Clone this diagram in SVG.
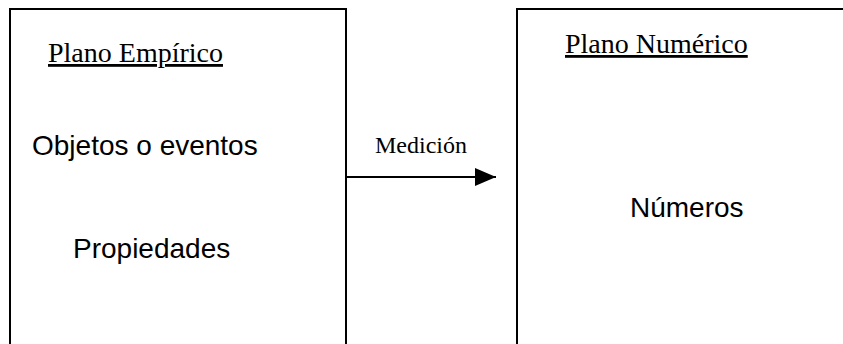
<svg xmlns="http://www.w3.org/2000/svg" width="843" height="344" viewBox="0 0 843 344">
<style>
.box{fill:#fff;stroke:#000;stroke-width:2}
.t{font-family:"Liberation Serif","Times New Roman",serif;font-size:28px;fill:#000}
.a{font-family:"Liberation Sans",Arial,sans-serif;font-size:28px;fill:#000}
.u{text-decoration:underline}
</style>
<defs>
<marker id="ah" markerWidth="22" markerHeight="18" refX="21" refY="9" orient="auto" markerUnits="userSpaceOnUse">
<path d="M0,0 L21,9 L0,18 Z" fill="#000"/>
</marker>
</defs>
<g id="plano-empirico">
<rect class="box" x="10" y="9" width="336" height="345"/>
<text class="t u" x="48" y="62">Plano Empírico</text>
<text class="a" x="32" y="155">Objetos o eventos</text>
<text class="a" x="73" y="258">Propiedades</text>
</g>
<g id="plano-numerico">
<rect class="box" x="517" y="9" width="340" height="345"/>
<text class="t u" x="565" y="53">Plano Numérico</text>
<text class="a" x="630" y="217">Números</text>
</g>
<g id="connectors">
<line x1="346" y1="177" x2="496" y2="177" stroke="#000" stroke-width="2" marker-end="url(#ah)"/>
<text class="t" x="375" y="153" style="font-size:24px">Medición</text>
</g>
</svg>
